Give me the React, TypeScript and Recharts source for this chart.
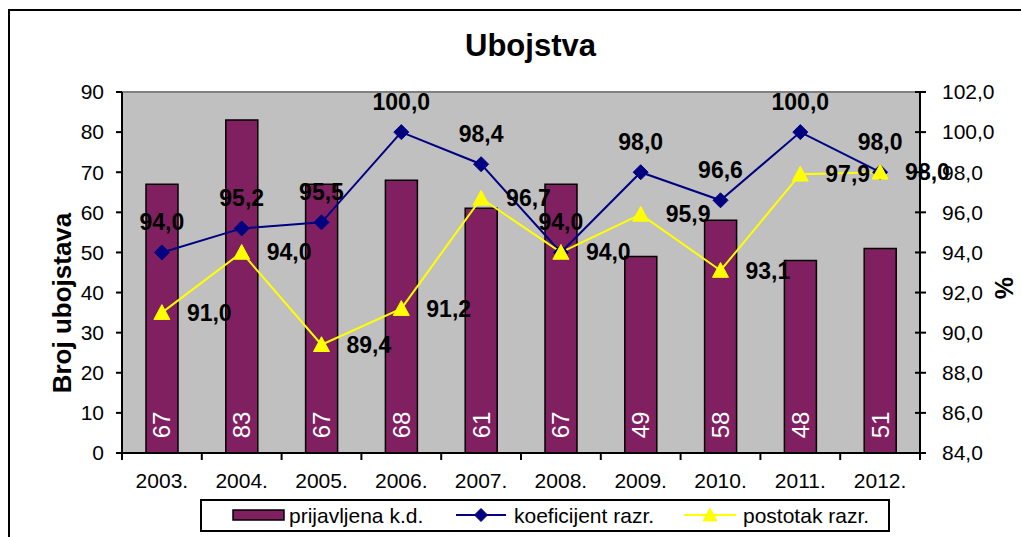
import React from "react";
import {
  ComposedChart,
  Bar,
  Line,
  XAxis,
  YAxis,
  CartesianGrid,
  ReferenceLine,
  LabelList,
} from "recharts";

// Ubojstva – reported murders (bars) vs. clearance rates (lines)
const years = ["2003.", "2004.", "2005.", "2006.", "2007.", "2008.", "2009.", "2010.", "2011.", "2012."];
const prijavljena = [67, 83, 67, 68, 61, 67, 49, 58, 48, 51];
const koeficijent = [94.0, 95.2, 95.5, 100.0, 98.4, 94.0, 98.0, 96.6, 100.0, 98.0];
const postotak = [91.0, 94.0, 89.4, 91.2, 96.7, 94.0, 95.9, 93.1, 97.9, 98.0];
const leftTicks = [0, 10, 20, 30, 40, 50, 60, 70, 80, 90];
const rightTicks = [84, 86, 88, 90, 92, 94, 96, 98, 100, 102];

const data = years.map((year, i) => ({
  year,
  prijavljena: prijavljena[i],
  koeficijent: koeficijent[i],
  postotak: postotak[i],
}));

const FONT = "'Liberation Sans', Arial, sans-serif";
const BAR_COLOR = "#802060";
const BLUE = "#000080";
const YELLOW = "#FFFF00";
const BAND = 79.8;

const comma = (v: number) => v.toFixed(1).replace(".", ",");

const Diamond = ({ cx, cy, r = 7.5 }: { cx: number; cy: number; r?: number }) => (
  <polygon
    points={`${cx},${cy - r} ${cx + r},${cy} ${cx},${cy + r} ${cx - r},${cy}`}
    fill={BLUE}
    stroke={BLUE}
  />
);

const Triangle = ({ cx, cy, s = 8 }: { cx: number; cy: number; s?: number }) => (
  <polygon
    points={`${cx},${cy - s} ${cx + s},${cy + s * 0.85} ${cx - s},${cy + s * 0.85}`}
    fill={YELLOW}
    stroke={YELLOW}
  />
);

const XTick = ({ x, y, payload, index, visibleTicksCount }: any) => (
  <g>
    <line x1={x - BAND / 2} y1={y} x2={x - BAND / 2} y2={y + 7} stroke="#000" strokeWidth={2} />
    {index === visibleTicksCount - 1 && (
      <line x1={x + BAND / 2} y1={y} x2={x + BAND / 2} y2={y + 7} stroke="#000" strokeWidth={2} />
    )}
    <text x={x} y={y + 35} textAnchor="middle" fontSize={21} fill="#000" fontFamily={FONT}>
      {payload.value}
    </text>
  </g>
);

const LeftTick = ({ x, y, payload }: any) => (
  <g>
    <line x1={x - 6} y1={y} x2={x} y2={y} stroke="#000" strokeWidth={2} />
    <text x={x - 18} y={y} dy="0.35em" textAnchor="end" fontSize={21} fill="#000" fontFamily={FONT}>
      {payload.value}
    </text>
  </g>
);

const RightTick = ({ x, y, payload }: any) => (
  <g>
    <line x1={x - 5} y1={y} x2={x + 6} y2={y} stroke="#000" strokeWidth={2} />
    <text x={x + 22} y={y} dy="0.35em" textAnchor="start" fontSize={21} fill="#000" fontFamily={FONT}>
      {comma(payload.value)}
    </text>
  </g>
);

const BarValue = ({ x, y, width, height, value }: any) => {
  const cx = x + width / 2;
  const cy = y + height - 28;
  return (
    <text
      x={cx}
      y={cy}
      dy="0.35em"
      textAnchor="middle"
      fontSize={24}
      fill="#fff"
      fontFamily={FONT}
      transform={`rotate(-90, ${cx}, ${cy})`}
    >
      {value}
    </text>
  );
};

const AboveValue = ({ x, y, value }: any) => (
  <text x={x} y={y - 30} dy="0.35em" textAnchor="middle" fontSize={23} fontWeight="bold" fill="#000" fontFamily={FONT}>
    {comma(value)}
  </text>
);

const RightValue = ({ x, y, value }: any) => (
  <text x={x + 25} y={y} dy="0.35em" textAnchor="start" fontSize={23} fontWeight="bold" fill="#000" fontFamily={FONT}>
    {comma(value)}
  </text>
);

export default function App() {
  return (
    <div
      style={{
        position: "absolute",
        left: 0,
        top: 0,
        width: 1021,
        height: 537,
        overflow: "hidden",
        background: "#fff",
        fontFamily: FONT,
      }}
    >
      <div
        style={{
          position: "absolute",
          left: 8,
          top: 9,
          width: 1030,
          height: 560,
          border: "2px solid #000",
          boxSizing: "border-box",
        }}
      />
      <div style={{ position: "absolute", left: 0, top: 0 }}>
        <ComposedChart width={1021} height={537} data={data} margin={{ top: 92, right: 0, bottom: 0, left: 0 }}>
          <CartesianGrid yAxisId="left" horizontal={false} vertical={false} fill="#C0C0C0" stroke="none" />
          <XAxis
            dataKey="year"
            height={84}
            tickLine={false}
            tickSize={0}
            tickMargin={0}
            interval={0}
            axisLine={{ stroke: "#000", strokeWidth: 2 }}
            tick={<XTick />}
          />
          <YAxis
            yAxisId="left"
            orientation="left"
            width={122}
            domain={[0, 90]}
            ticks={leftTicks}
            interval={0}
            tickLine={false}
            tickSize={0}
            tickMargin={0}
            axisLine={{ stroke: "#000", strokeWidth: 2 }}
            tick={<LeftTick />}
            label={{
              content: () => (
                <text
                  x={62}
                  y={303}
                  dy="0.35em"
                  textAnchor="middle"
                  fontSize={26}
                  fontWeight="bold"
                  fontFamily={FONT}
                  fill="#000"
                  transform="rotate(-90, 62, 303)"
                >
                  Broj ubojstava
                </text>
              ),
            }}
          />
          <YAxis
            yAxisId="right"
            orientation="right"
            width={101}
            domain={[84, 102]}
            ticks={rightTicks}
            interval={0}
            tickLine={false}
            tickSize={0}
            tickMargin={0}
            axisLine={{ stroke: "#000", strokeWidth: 2 }}
            tick={<RightTick />}
            label={{
              content: () => (
                <text
                  x={1004}
                  y={288}
                  dy="0.35em"
                  textAnchor="middle"
                  fontSize={25}
                  fontWeight="bold"
                  fontFamily={FONT}
                  fill="#000"
                  transform="rotate(-90, 1004, 288)"
                >
                  %
                </text>
              ),
            }}
          />
          <ReferenceLine yAxisId="left" y={90} stroke="#808080" strokeWidth={2} />
          <Bar
            yAxisId="left"
            dataKey="prijavljena"
            barSize={32}
            fill={BAR_COLOR}
            stroke="#000"
            strokeWidth={1.5}
            isAnimationActive={false}
          >
            <LabelList dataKey="prijavljena" content={<BarValue />} />
          </Bar>
          <Line
            yAxisId="right"
            dataKey="koeficijent"
            stroke={BLUE}
            strokeWidth={2}
            dot={(p: any) => <Diamond key={`d-${p.index}`} cx={p.cx} cy={p.cy} />}
            activeDot={false}
            isAnimationActive={false}
          >
            <LabelList dataKey="koeficijent" content={<AboveValue />} />
          </Line>
          <Line
            yAxisId="right"
            dataKey="postotak"
            stroke={YELLOW}
            strokeWidth={2}
            dot={(p: any) => <Triangle key={`t-${p.index}`} cx={p.cx} cy={p.cy} />}
            activeDot={false}
            isAnimationActive={false}
          >
            <LabelList dataKey="postotak" content={<RightValue />} />
          </Line>
        </ComposedChart>
      </div>

      <div
        style={{
          position: "absolute",
          left: 0,
          top: 26,
          width: 1061,
          textAlign: "center",
          fontSize: 31,
          fontWeight: "bold",
          lineHeight: "40px",
        }}
      >
        Ubojstva
      </div>

      <div
        style={{
          position: "absolute",
          left: 200,
          top: 499,
          width: 690,
          height: 33,
          border: "2px solid #000",
          boxSizing: "border-box",
          background: "#fff",
          fontSize: 21,
        }}
      >
        <svg style={{ position: "absolute", left: 0, top: 0 }} width={690} height={31}>
          <rect x={31} y={9} width={51} height={10} fill={BAR_COLOR} stroke="#000" strokeWidth={1.5} />
          <line x1={254} y1={14} x2={304} y2={14} stroke={BLUE} strokeWidth={2} />
          <Diamond cx={279} cy={14} r={6.5} />
          <line x1={482} y1={14} x2={534} y2={14} stroke={YELLOW} strokeWidth={2} />
          <Triangle cx={508} cy={14} s={7} />
        </svg>
        <span style={{ position: "absolute", left: 87, top: 2, lineHeight: "26px" }}>prijavljena k.d.</span>
        <span style={{ position: "absolute", left: 312, top: 2, lineHeight: "26px" }}>koeficijent razr.</span>
        <span style={{ position: "absolute", left: 541, top: 2, lineHeight: "26px" }}>postotak razr.</span>
      </div>
    </div>
  );
}
